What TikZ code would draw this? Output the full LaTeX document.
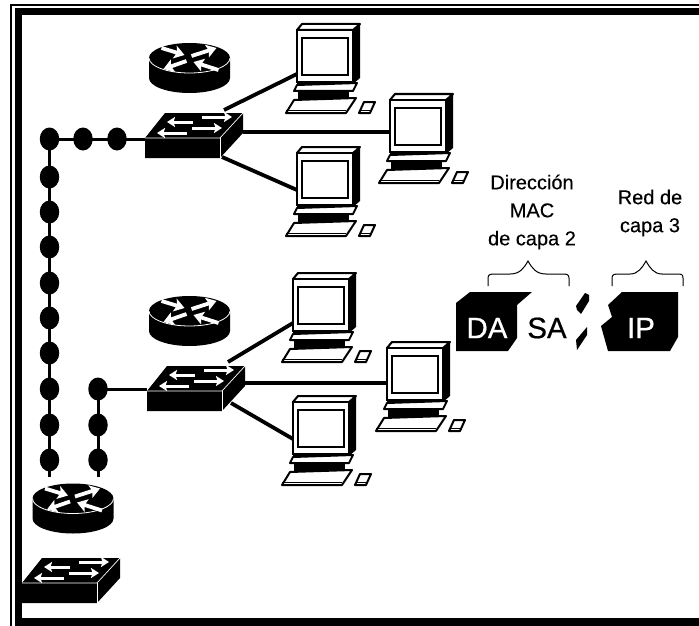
\documentclass[tikz,border=0pt]{standalone}
\usepackage{fontspec}
\setmainfont{Liberation Sans}
\newfontfamily\heavyfont[FakeBold=0.6]{Liberation Sans}
\newfontfamily\midfont[FakeBold=0.25]{Liberation Sans}
\usetikzlibrary{arrows.meta,shapes.geometric}
\tikzset{
  x=1pt,y=-1pt,
  link/.style={line width=3.8pt,black},
  busline/.style={line width=3pt,black},
  dot/.style={ellipse,fill=black,minimum width=19.5pt,minimum height=23pt,inner sep=0pt},
  lbl/.style={font=\midfont\fontsize{20}{28}\selectfont,align=center,inner sep=0pt,text=black},
  frametxt/.style={font=\heavyfont\fontsize{29.5}{30}\selectfont,inner sep=0pt},
  wa/.style={white,line width=3.8pt,-{Stealth[length=10pt,width=13pt,inset=2pt]}},
  wb/.style={white,line width=3pt,-{Stealth[length=8pt,width=10pt,inset=1.5pt]}},
  brace/.style={line width=1pt,black},
  router/.pic={
    \fill[black] (-40.5,0) -- (-40.5,20) arc[start angle=180,end angle=0,x radius=40.5,y radius=15] -- (40.5,0) arc[start angle=0,end angle=-180,x radius=40.5,y radius=15] -- cycle;
    \draw[white,line width=.8pt] (-40.5,0) arc[start angle=180,end angle=0,x radius=40.5,y radius=15];
    \draw[wa] (-28,-10) -- (-5,-3);
    \draw[wa] (2,-2) -- (27,-10);
    \draw[wa] (-3,3) -- (-26,11);
    \draw[wa] (29,12) -- (4,4);
  },
  switchdev/.pic={
    \fill[black] (0,0) -- (20,-25) -- (98,-25) -- (98,-5) -- (75,20) -- (0,20) -- cycle;
    \draw[white,line width=.7pt] (0,0) -- (75,0) -- (98,-25);
    \draw[white,line width=.7pt] (75,0) -- (75,20);
    \draw[wb] (57,-21) -- (87,-21);
    \draw[wb] (48,-16) -- (22,-16);
    \draw[wb] (47,-10) -- (77,-10);
    \draw[wb] (42,-5) -- (12,-5);
  },
  pcdev/.pic={
    \fill[black] (56,0) -- (63,-6) -- (63,48) -- (56,54) -- cycle;
    \draw[black,line width=2pt,fill=white,line join=round] (0,0) -- (5,-6) -- (63,-6) -- (56,0) -- cycle;
    \draw[black,line width=2pt,fill=white] (0,0) rectangle (56,52);
    \draw[black,line width=1.8pt] (5,8) rectangle (51,45);
    \fill[black] (0,52) rectangle (60,55);
    \draw[black,line width=2pt,fill=white,line join=round] (-3,61) -- (0,55) -- (60,53) -- (56,61) -- cycle;
    \fill[black] (1,61) rectangle (52,69);
    \draw[black,line width=2pt,fill=white,line join=round] (-11,83) -- (-3,70) -- (59,68) -- (49,83) -- cycle;
    \draw[black,line width=1.6pt] (-11,80.5) -- (49,80.5);
    \draw[black,line width=2pt,fill=white,line join=round] (62,83) -- (67,72) -- (78,72) -- (73,83) -- cycle;
    \draw[black,line width=1.6pt] (62,80.5) -- (73,80.5);
  }
}
\begin{document}
\begin{tikzpicture}
\useasboundingbox (0,0) rectangle (699,626);
\fill[white] (0,0) rectangle (699,626);
% frame
\fill[black] (10,4) rectangle (699,6);
\fill[black] (10,4) rectangle (12,626);
\fill[black] (15,8) rectangle (699,15);
\fill[black] (15,8) rectangle (22,626);
\fill[black] (15,618) rectangle (699,626);
% device anchors
\coordinate (sw1a) at (145,138);
\coordinate (sw2a) at (147,391);
\coordinate (sw1in) at (145,139);
\coordinate (sw2in) at (147,389);
\coordinate (sw1p1) at (224,110);
\coordinate (sw1p2) at (243,132);
\coordinate (sw1p3) at (222,157);
\coordinate (sw2p1) at (228,362);
\coordinate (sw2p2) at (245,383);
\coordinate (sw2p3) at (231,403);
\coordinate (pc1p) at (297,74);
\coordinate (pc2p) at (390,132);
\coordinate (pc3p) at (297,190);
\coordinate (pc4p) at (293,323);
\coordinate (pc5p) at (387,383);
\coordinate (pc6p) at (293,439);
\coordinate (busend1) at (49.5,477);
\coordinate (busend2) at (98,477);
% links
\draw[link] (sw1p1) -- (pc1p);
\draw[link] (sw1p2) -- (pc2p);
\draw[link] (sw1p3) -- (pc3p);
\draw[link] (sw2p1) -- (pc4p);
\draw[link] (sw2p2) -- (pc5p);
\draw[link] (sw2p3) -- (pc6p);
% bus nodes
\node[dot] (a1) at (49.5,139) {};
\node[dot] (a2) at (83,139) {};
\node[dot] (a3) at (117,139) {};
\node[dot] (b1) at (49.5,177) {};
\node[dot] (b2) at (49.5,212) {};
\node[dot] (b3) at (49.5,247) {};
\node[dot] (b4) at (49.5,283) {};
\node[dot] (b5) at (49.5,318) {};
\node[dot] (b6) at (49.5,353) {};
\node[dot] (b7) at (49.5,389) {};
\node[dot] (b8) at (49.5,425) {};
\node[dot] (b9) at (49.5,460) {};
\node[dot] (c1) at (98,389) {};
\node[dot] (c2) at (98,425) {};
\node[dot] (c3) at (98,460) {};
\draw[busline] (sw1in) -- (a3.center) -- (a2.center) -- (a1.center) -- (b1.center) -- (b2.center) -- (b3.center) -- (b4.center) -- (b5.center) -- (b6.center) -- (b7.center) -- (b8.center) -- (b9.center) -- (busend1);
\draw[busline] (sw2in) -- (c1.center) -- (c2.center) -- (c3.center) -- (busend2);
% devices
\pic at (189.5,58) {router};
\pic at (189.5,311) {router};
\pic at (73,498.5) {router};
\pic at (sw1a) {switchdev};
\pic at (sw2a) {switchdev};
\pic at (22,583) {switchdev};
\pic at (297,30) {pcdev};
\pic at (390,100) {pcdev};
\pic at (297,153) {pcdev};
\pic at (293,279) {pcdev};
\pic at (387,348) {pcdev};
\pic at (293,402) {pcdev};
% labels
\node[lbl] (t1) at (532,212) {Dirección\\MAC\\de capa 2};
\node[lbl] (t2) at (650,213) {Red de\\capa 3};
\draw[brace] (488,286) -- (488,278) .. controls (488,274) and (491,274) .. (495,274) -- (510,274) .. controls (520,274) and (524,268) .. (528,261) .. controls (532,268) and (536,274) .. (546,274) -- (562,274) .. controls (566,274) and (569,274) .. (569,278) -- (569,286);
\draw[brace] (612,286) -- (612,278) .. controls (612,274) and (615,274) .. (619,274) -- (630,274) .. controls (638,274) and (642,268) .. (646,261) .. controls (650,268) and (654,274) .. (662,274) -- (677,274) .. controls (681,274) and (683,274) .. (683,278) -- (683,286);
% frame shapes
\fill[black] (456,303) -- (470,292) -- (532,292) -- (517,305) -- (517,338) -- (508,351) -- (456,351) -- cycle;
\fill[black] (576,306) -- (585,293) -- (589,295) -- (589,301) -- (581,314) -- (577,310) -- cycle;
\fill[black] (576,340) -- (587,327) -- (587,335) -- (577,350) -- cycle;
\fill[black] (622,292) -- (678,292) -- (678,337) -- (670,351) -- (608,351) -- (601,326) -- (612,317) -- (608,305) -- cycle;
\node[frametxt,text=white] (da) at (487,328) {DA};
\node[frametxt,text=black] (sa) at (547,328) {SA};
\node[frametxt,text=white] (ip) at (641,328) {IP};
\end{tikzpicture}
\end{document}
